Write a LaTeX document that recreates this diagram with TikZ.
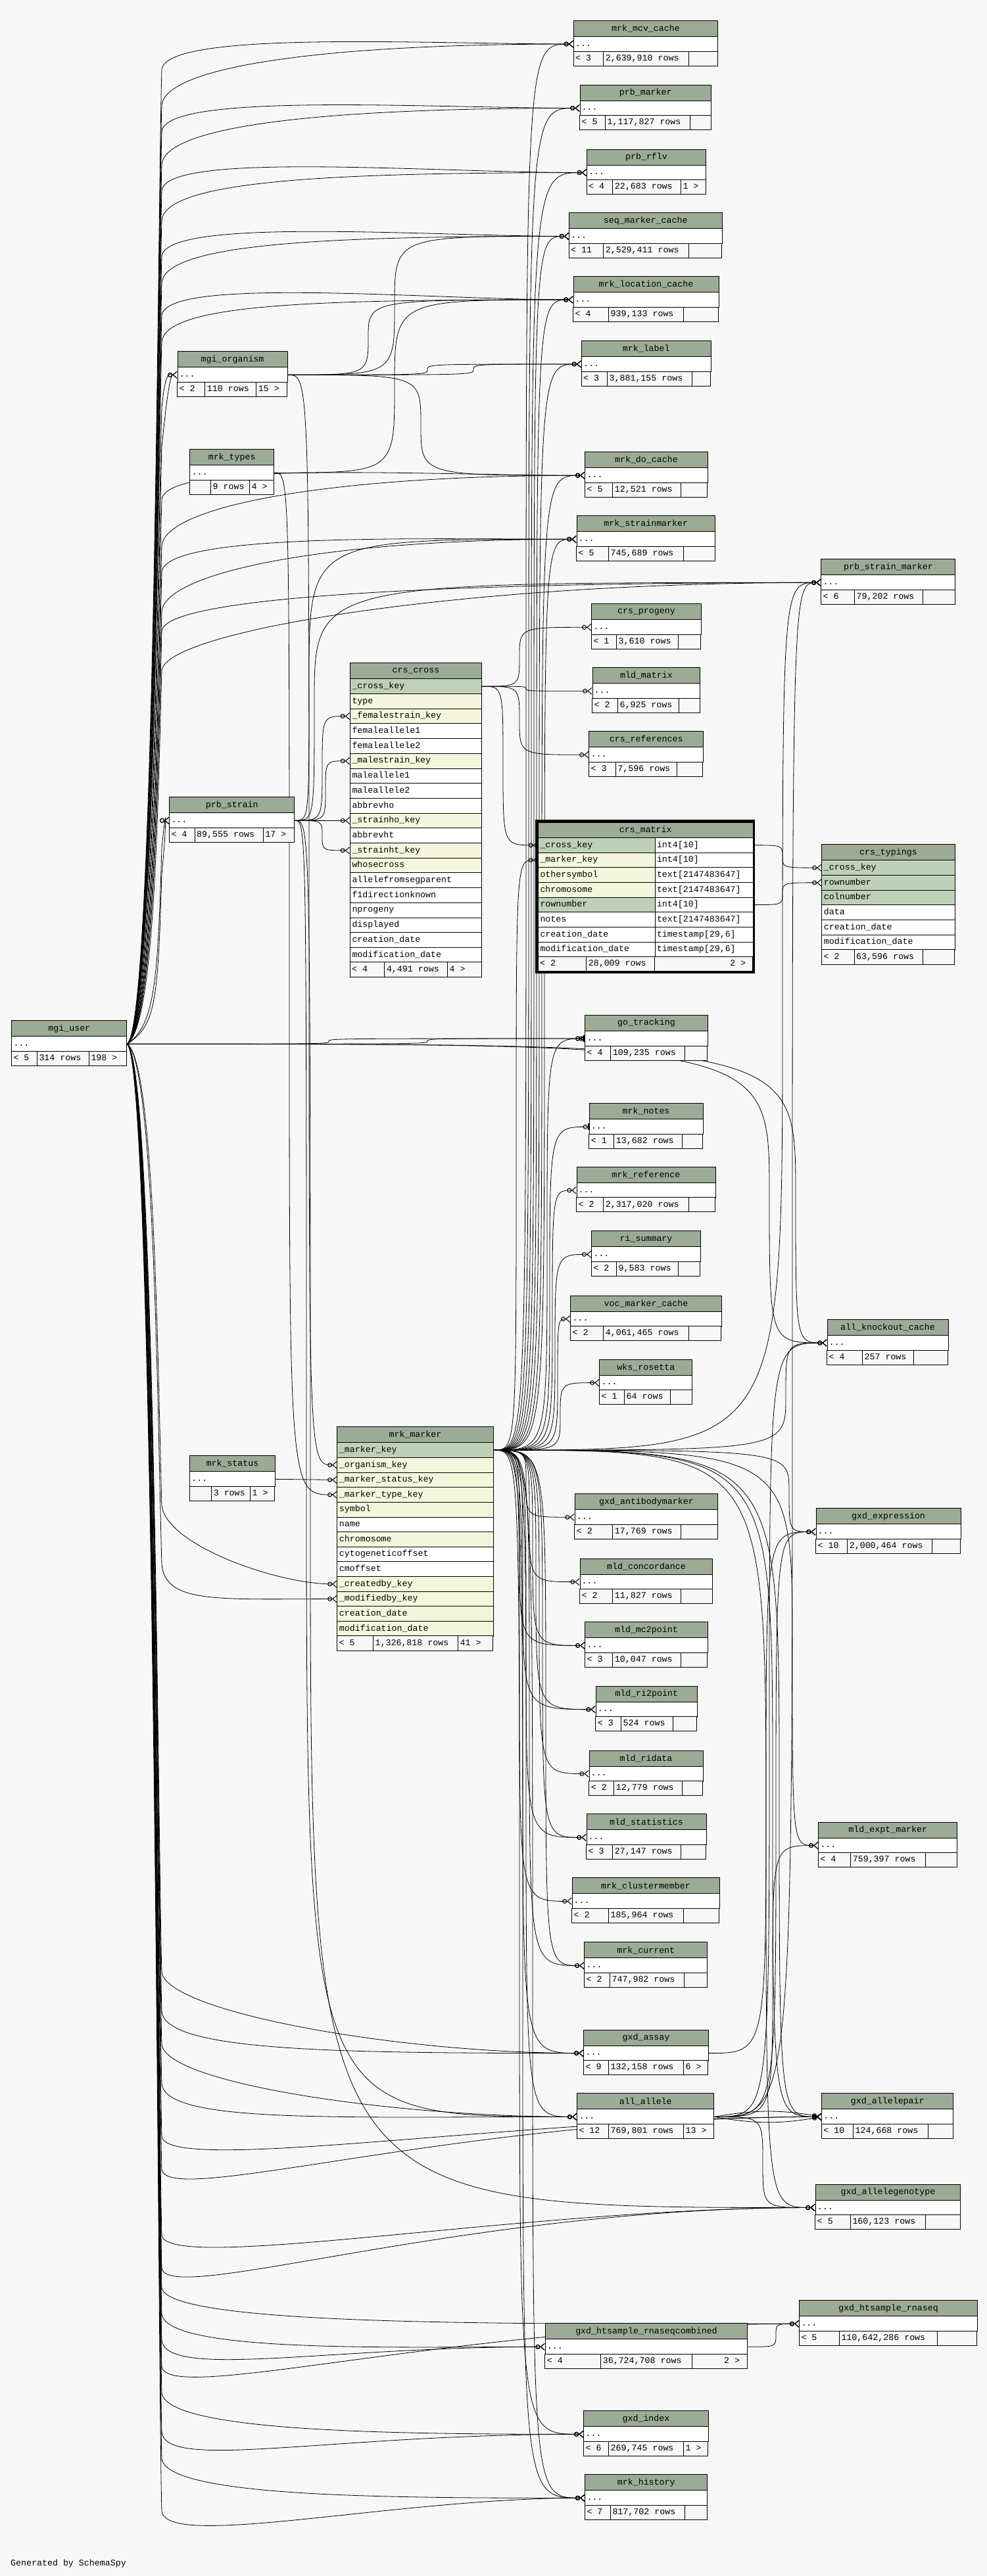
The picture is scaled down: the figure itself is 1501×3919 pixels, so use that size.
\documentclass[tikz,border=0pt]{standalone}
\usepackage{fontspec}
\setmonofont{Liberation Mono}
\usetikzlibrary{arrows.meta,calc}
\pgfdeclarelayer{background}
\pgfsetlayers{background,main}

\definecolor{bgcol}{HTML}{F7F7F7}
\definecolor{headcol}{HTML}{9BAB96}
\definecolor{pkcol}{HTML}{BED1B8}
\definecolor{ixcol}{HTML}{F4F7DD}
\newcommand{\tfont}{\ttfamily\fontsize{13.3}{15}\selectfont}

% footer: x1, y1, x2, y2, split1, split2, left, middle, right
\newcommand{\tblfoot}[9]{%
  \draw[cell] (#1,#2) rectangle (#5,#4);
  \draw[cell] (#5,#2) rectangle (#6,#4);
  \draw[cell] (#6,#2) rectangle (#3,#4);
  \node[celltext] at (#1,{(#2+#4)/2}) {#7};
  \node[celltext] at (#5,{(#2+#4)/2}) {#8};
  \node[celltext] at (#6,{(#2+#4)/2}) {#9};}

% collapsed table: name, x1, y1, x2, split1, split2, left, middle, right
\newcommand{\smalltbl}[9]{%
  \pgfmathsetmacro{\tblw}{#4-#2}%
  \node[thead, minimum width=\tblw pt, anchor=north west] (#1-h) at (#2,#3) {\detokenize{#1}};
  \node[dotsrow, minimum width=\tblw pt, anchor=north west] (#1) at (#2,{#3+24}) {};
  \node[celltext] at (#1.west) {...};
  \tblfoot{#2}{#3+47}{#4}{#3+69}{#5}{#6}{#7}{#8}{#9}}

% foreign key: child end gets the crow's foot
\newcommand{\fkline}[4][fk]{\draw[#1] (#2) .. controls (#2 -| #3,0) .. ($(#2 -| #3,0)!0.5!(#4 -| #3,0)$) .. controls (#4 -| #3,0) .. (#4);}
\newcommand{\userup}[3]{\draw[fk] (mgi_user.east) .. controls (236,1560) and (240,{#2+200}) .. (246,#2) .. controls (252,{#2-60}) and (#1.west -| #3,0) .. (#1.west);}
\newcommand{\userdn}[3]{\draw[fk] (mgi_user.east) .. controls (236,1615) and (240,{#2-200}) .. (246,#2) .. controls (252,{#2+60}) and (#1.west -| #3,0) .. (#1.west);}

\begin{document}
\begin{tikzpicture}
  [x=1pt, y=-1pt,
  thead/.style={draw, fill=headcol, line width=1pt, minimum height=24pt, inner sep=0pt, font=\tfont},
  dotsrow/.style={draw, fill=white, line width=1pt, minimum height=23pt, inner sep=0pt},
  cell/.style={draw, fill=bgcol, line width=1pt},
  celltext/.style={anchor=west, inner xsep=3pt, inner ysep=0pt, text height=9.5pt, text depth=3pt, font=\tfont},
  trow/.style={draw, line width=1pt, minimum height=22.7pt, inner xsep=3pt, inner ysep=0pt, text height=9.5pt, text depth=3pt, align=left, font=\tfont},
  fk/.style={line width=0.8pt, -{Circle[open,length=7pt,width=7pt,line width=1pt] Straight Barb[reversed,length=6pt,width=10pt,line width=1pt]}},
  fkone/.style={line width=0.8pt, -{Circle[open,length=7pt,width=7pt,line width=1pt] Bar[width=10pt,line width=2pt]}}
  ]
  \begin{pgfonlayer}{background}
    \path[use as bounding box, fill=bgcol] (0,0) rectangle (1501,3919);
  \end{pgfonlayer}

  % tables, top to bottom
  \smalltbl{mrk_mcv_cache}{872}{31}{1091}{917.6}{1047.8}{< 3}{2,639,910 rows}{}
  \smalltbl{prb_marker}{881.5}{128.5}{1081}{920.5}{1049.4}{< 5}{1,117,827 rows}{}
  \smalltbl{prb_rflv}{892}{226.6}{1073}{931.7}{1035.3}{< 4}{22,683 rows}{1 >}
  \smalltbl{seq_marker_cache}{865}{323.4}{1097.5}{917.6}{1047.8}{< 11}{2,529,411 rows}{}
  \smalltbl{mrk_location_cache}{871.5}{420}{1092.5}{925.5}{1039.5}{< 4}{939,133 rows}{}
  \smalltbl{mrk_label}{884}{518}{1080.5}{923.4}{1052.3}{< 3}{3,881,155 rows}{}
  \smalltbl{mgi_organism}{269.5}{534.3}{436.7}{311.7}{389.7}{< 2}{110 rows}{15 >}
  \smalltbl{mrk_types}{288.4}{683.2}{416}{320.4}{379.5}{}{9 rows}{4 >}
  \smalltbl{mrk_do_cache}{889.4}{687.3}{1075.5}{931.7}{1035.7}{< 5}{12,521 rows}{}
  \smalltbl{mrk_strainmarker}{876.5}{784.3}{1087.1}{925.5}{1039.5}{< 5}{745,689 rows}{}
  \smalltbl{prb_strain_marker}{1248.4}{850.3}{1452.4}{1299.4}{1403.5}{< 6}{79,202 rows}{}
  \smalltbl{crs_progeny}{899.3}{918.3}{1065.6}{937.5}{1031.6}{< 1}{3,610 rows}{}
  \smalltbl{mld_matrix}{900.5}{1015.3}{1064.4}{939.4}{1032.5}{< 2}{6,925 rows}{}
  \smalltbl{crs_references}{895.4}{1112.3}{1068.9}{936.2}{1029.3}{< 3}{7,596 rows}{}
  \smalltbl{prb_strain}{257.3}{1212.3}{447.3}{296}{400.3}{< 4}{89,555 rows}{17 >}
  \smalltbl{mgi_user}{17.3}{1552.3}{192.3}{56.3}{135.3}{< 5}{314 rows}{198 >}
  \smalltbl{go_tracking}{889.4}{1544}{1075.5}{928.8}{1041.5}{< 4}{109,235 rows}{}
  \smalltbl{mrk_notes}{895.6}{1678.3}{1068.5}{933.7}{1037.4}{< 1}{13,682 rows}{}
  \smalltbl{mrk_reference}{876.5}{1774.9}{1087.6}{917.6}{1047.8}{< 2}{2,317,020 rows}{}
  \smalltbl{ri_summary}{899.3}{1872.3}{1064.8}{937.5}{1031.6}{< 2}{9,583 rows}{}
  \smalltbl{voc_marker_cache}{867.4}{1970.6}{1096.7}{917.6}{1047.8}{< 2}{4,061,465 rows}{}
  \smalltbl{wks_rosetta}{911.4}{2067.6}{1052.3}{949.5}{1019.6}{< 1}{64 rows}{}
  \smalltbl{all_knockout_cache}{1257.5}{2007}{1441.6}{1311.4}{1389.4}{< 4}{257 rows}{}
  \smalltbl{gxd_antibodymarker}{873.6}{2272.2}{1091.3}{931.7}{1035.7}{< 2}{17,769 rows}{}
  \smalltbl{gxd_expression}{1240.5}{2294.4}{1460.7}{1288.6}{1417.6}{< 10}{2,000,464 rows}{}
  \smalltbl{mld_concordance}{881.5}{2370.6}{1083.4}{931.7}{1035.7}{< 2}{11,827 rows}{}
  \smalltbl{mld_mc2point}{889.4}{2467.4}{1075.5}{931.7}{1035.7}{< 3}{10,047 rows}{}
  \smalltbl{mld_ri2point}{905.6}{2564.6}{1059.8}{944.5}{1023.3}{< 3}{524 rows}{}
  \smalltbl{mld_ridata}{895.6}{2662.5}{1068.5}{933.7}{1037.4}{< 2}{12,779 rows}{}
  \smalltbl{mld_statistics}{891.5}{2759.4}{1073.5}{931.7}{1035.7}{< 3}{27,147 rows}{}
  \smalltbl{mld_expt_marker}{1244.3}{2771.6}{1455.3}{1293.6}{1407.6}{< 4}{759,397 rows}{}
  \smalltbl{mrk_status}{288.2}{2214.3}{417.7}{321.6}{380.5}{}{3 rows}{1 >}
  \smalltbl{mrk_clustermember}{869.5}{2856.4}{1093.6}{925.5}{1039.4}{< 2}{185,964 rows}{}
  \smalltbl{mrk_current}{888.4}{2954.4}{1075.2}{927.4}{1040.3}{< 2}{747,982 rows}{}
  \smalltbl{gxd_assay}{887.4}{3087.6}{1076.6}{925.5}{1039.4}{< 9}{132,158 rows}{6 >}
  \smalltbl{all_allele}{877.3}{3184.4}{1085.3}{925.5}{1039.4}{< 12}{769,801 rows}{13 >}
  \smalltbl{gxd_allelepair}{1249.2}{3184.4}{1449.4}{1297.4}{1411.3}{< 10}{124,668 rows}{}
  \smalltbl{gxd_allelegenotype}{1239.6}{3322.5}{1460.4}{1293.3}{1407.2}{< 5}{160,123 rows}{}
  \smalltbl{gxd_htsample_rnaseq}{1215.3}{3499.3}{1485.7}{1276.3}{1425.5}{< 5}{110,642,286 rows}{}
  \smalltbl{gxd_htsample_rnaseqcombined}{828.7}{3534.3}{1136.3}{913.6}{1052.3}{< 4}{36,724,708 rows}{}
  \node[celltext, anchor=east, inner xsep=11pt] at (1136.3,3592.3) {2 >};
  \smalltbl{gxd_index}{887.4}{3667.3}{1076.6}{925.5}{1039.4}{< 6}{269,745 rows}{1 >}
  \smalltbl{mrk_history}{889.3}{3764.3}{1075.2}{928.3}{1041.3}{< 7}{817,702 rows}{}

  % crs_cross
  \node[thead, minimum width=200pt, anchor=north west] (crs_cross-h) at (532,1008.3) {crs\_cross};
  \foreach \nm/\fc [count=\i] in {\_cross\_key/pkcol, type/ixcol, \_femalestrain\_key/ixcol, femaleallele1/white, femaleallele2/white, \_malestrain\_key/ixcol, maleallele1/white, maleallele2/white, abbrevho/white, \_strainho\_key/ixcol, abbrevht/white, \_strainht\_key/ixcol, whosecross/ixcol, allelefromsegparent/white, f1directionknown/white, nprogeny/white, displayed/white, creation\_date/white, modification\_date/white}
    \node[trow, fill=\fc, text width=194pt, anchor=north west] (crs_cross-\i) at (532,{1032.3+(\i-1)*22.7}) {\nm};
  \tblfoot{532}{1463.6}{732}{1486.3}{584.8}{680.5}{< 4}{4,491 rows}{4 >}

  % crs_matrix
  \node[thead, minimum width=326.5pt, minimum height=23.3pt, anchor=north west] (crs_matrix-h) at (818,1250.7) {crs\_matrix};
  \foreach \nm/\fc/\ty [count=\i] in {\_cross\_key/pkcol/int4[10], \_marker\_key/ixcol/int4[10], othersymbol/ixcol/text[2147483647], chromosome/ixcol/text[2147483647], rownumber/pkcol/int4[10], notes/white/text[2147483647], creation\_date/white/{timestamp[29,6]}, modification\_date/white/{timestamp[29,6]}}
  {
    \node[trow, fill=\fc, text width=171.5pt, anchor=north west] (crs_matrix-\i) at (818,{1274+(\i-1)*22.67}) {\nm};
    \node[trow, fill=white, text width=143pt, anchor=north west] (crs_matrix-t\i) at (995.5,{1274+(\i-1)*22.67}) {\ty};
  }
  \tblfoot{818}{1455.4}{1144.5}{1477.3}{891.6}{995.5}{< 2}{28,009 rows}{}
  \node[celltext, anchor=east, inner xsep=10pt] at (1144.5,1466.3) {2 >};
  \draw[line width=3.5pt] (816.2,1248.9) rectangle (1146.3,1479.1);

  % crs_typings
  \node[thead, minimum width=202.1pt, anchor=north west] (crs_typings-h) at (1249.4,1284.3) {crs\_typings};
  \foreach \nm/\fc [count=\i] in {\_cross\_key/pkcol, rownumber/pkcol, colnumber/pkcol, data/white, creation\_date/white, modification\_date/white}
    \node[trow, fill=\fc, text width=196.1pt, anchor=north west] (crs_typings-\i) at (1249.4,{1308.3+(\i-1)*22.7}) {\nm};
  \tblfoot{1249.4}{1444.5}{1451.5}{1467.3}{1299}{1403.7}{< 2}{63,596 rows}{}

  % mrk_marker
  \node[thead, minimum width=237.1pt, anchor=north west] (mrk_marker-h) at (512.4,2170.3) {mrk\_marker};
  \foreach \nm/\fc [count=\i] in {\_marker\_key/pkcol, \_organism\_key/ixcol, \_marker\_status\_key/ixcol, \_marker\_type\_key/ixcol, symbol/ixcol, name/white, chromosome/ixcol, cytogeneticoffset/white, cmoffset/white, \_createdby\_key/ixcol, \_modifiedby\_key/ixcol, creation\_date/ixcol, modification\_date/ixcol}
    \node[trow, fill=\fc, text width=231.1pt, anchor=north west] (mrk_marker-\i) at (512.4,{2194.3+(\i-1)*22.64}) {\nm};
  \tblfoot{512.4}{2488.6}{749.5}{2511.3}{567.4}{696.5}{< 5}{1,326,818 rows}{41 >}

  \node[celltext, inner xsep=0pt] (credit) at (16,3900) {Generated by SchemaSpy};

  \begin{pgfonlayer}{background}
    % mgi_user
    \userup{mrk_mcv_cache}{106}{650}
    \userup{mrk_mcv_cache}{160}{500}
    \userup{prb_marker}{200}{650}
    \userup{prb_marker}{250}{500}
    \userup{prb_rflv}{290}{650}
    \userup{prb_rflv}{335}{500}
    \userup{seq_marker_cache}{390}{650}
    \userup{seq_marker_cache}{430}{500}
    \userup{mrk_location_cache}{480}{650}
    \userup{mrk_location_cache}{520}{500}
    \userup{mgi_organism}{620}{258}
    \userup{mgi_organism}{680}{258}
    \userup{mrk_do_cache}{760}{650}
    \userup{mrk_do_cache}{830}{500}
    \userup{mrk_strainmarker}{870}{650}
    \userup{mrk_strainmarker}{930}{500}
    \userup{prb_strain_marker}{960}{800}
    \userup{prb_strain_marker}{1020}{700}
    \userup{prb_strain}{1290}{252}
    \userup{prb_strain}{1330}{252}
    \fkline{mgi_user.east}{500}{go_tracking.west}
    \fkline{mgi_user.east}{650}{go_tracking.west}
    \fkline{mgi_user.east}{1170}{all_knockout_cache.west}
    \fkline{mgi_user.east}{1210}{all_knockout_cache.west}
    \userdn{mrk_marker-10}{2290}{420}
    \userdn{mrk_marker-11}{2380}{330}
    \userdn{gxd_assay}{3000}{600}
    \userdn{gxd_assay}{3060}{500}
    \userdn{all_allele}{3110}{600}
    \userdn{all_allele}{3170}{500}
    \userdn{gxd_allelepair}{3250}{800}
    \userdn{gxd_allelepair}{3300}{700}
    \userdn{gxd_allelegenotype}{3400}{800}
    \userdn{gxd_allelegenotype}{3450}{700}
    \userdn{gxd_htsample_rnaseq}{3480}{800}
    \userdn{gxd_htsample_rnaseq}{3600}{700}
    \userdn{gxd_htsample_rnaseqcombined}{3520}{600}
    \userdn{gxd_htsample_rnaseqcombined}{3560}{500}
    \userdn{gxd_index}{3640}{600}
    \userdn{gxd_index}{3700}{500}
    \userdn{mrk_history}{3740}{600}
    \userdn{mrk_history}{3820}{600}

    % mrk_marker
    \fkline{mrk_marker-1.east}{800}{mrk_mcv_cache.west}
    \fkline{mrk_marker-1.east}{804}{prb_marker.west}
    \fkline{mrk_marker-1.east}{808}{prb_rflv.west}
    \fkline{mrk_marker-1.east}{812}{seq_marker_cache.west}
    \fkline{mrk_marker-1.east}{816}{mrk_location_cache.west}
    \fkline{mrk_marker-1.east}{820}{mrk_label.west}
    \fkline{mrk_marker-1.east}{824}{mrk_do_cache.west}
    \fkline{mrk_marker-1.east}{828}{mrk_strainmarker.west}
    \fkline{mrk_marker-1.east}{785}{crs_matrix-2.west}
    \fkline[fkone]{mrk_marker-1.east}{832}{go_tracking.west}
    \fkline[fkone]{mrk_marker-1.east}{836}{mrk_notes.west}
    \fkline{mrk_marker-1.east}{840}{mrk_reference.west}
    \fkline{mrk_marker-1.east}{844}{ri_summary.west}
    \fkline{mrk_marker-1.east}{848}{voc_marker_cache.west}
    \fkline{mrk_marker-1.east}{852}{wks_rosetta.west}
    \fkline{mrk_marker-1.east}{1190}{prb_strain_marker.west}
    \fkline{mrk_marker-1.east}{1195}{all_knockout_cache.west}
    \fkline{mrk_marker-1.east}{1200}{gxd_expression.west}
    \fkline{mrk_marker-1.east}{1205}{mld_expt_marker.west}
    \fkline{mrk_marker-1.east}{800}{gxd_antibodymarker.west}
    \fkline{mrk_marker-1.east}{805}{mld_concordance.west}
    \fkline{mrk_marker-1.east}{790}{mld_mc2point.west}
    \fkline{mrk_marker-1.east}{810}{mld_mc2point.west}
    \fkline{mrk_marker-1.east}{795}{mld_ri2point.west}
    \fkline{mrk_marker-1.east}{815}{mld_ri2point.west}
    \fkline{mrk_marker-1.east}{820}{mld_ridata.west}
    \fkline{mrk_marker-1.east}{800}{mld_statistics.west}
    \fkline{mrk_marker-1.east}{825}{mld_statistics.west}
    \fkline{mrk_marker-1.east}{790}{mrk_clustermember.west}
    \fkline{mrk_marker-1.east}{805}{mrk_current.west}
    \fkline{mrk_marker-1.east}{830}{mrk_current.west}
    \fkline{mrk_marker-1.east}{795}{gxd_assay.west}
    \fkline{mrk_marker-1.east}{800}{all_allele.west}
    \fkline{mrk_marker-1.east}{1175}{gxd_allelepair.west}
    \fkline{mrk_marker-1.east}{1185}{gxd_allelepair.west}
    \fkline{mrk_marker-1.east}{1165}{gxd_allelegenotype.west}
    \fkline{mrk_marker-1.east}{790}{gxd_index.west}
    \fkline{mrk_marker-1.east}{795}{mrk_history.west}
    \fkline{mrk_marker-1.east}{810}{mrk_history.west}

    % mgi_organism, mrk_types, mrk_status
    \fkline{mgi_organism.east}{600}{seq_marker_cache.west}
    \fkline{mgi_organism.east}{560}{mrk_location_cache.west}
    \fkline{mgi_organism.east}{650}{mrk_label.west}
    \fkline{mgi_organism.east}{720}{mrk_label.west}
    \fkline{mgi_organism.east}{640}{mrk_do_cache.west}
    \fkline{mgi_organism.east}{470}{mrk_marker-2.west}
    \fkline{mrk_types.east}{600}{mrk_location_cache.west}
    \fkline{mrk_types.east}{440}{mrk_marker-4.west}
    \draw[fk] (mrk_status.east) -- (mrk_marker-3.west);

    % prb_strain
    \fkline{prb_strain.east}{490}{crs_cross-3.west}
    \fkline{prb_strain.east}{495}{crs_cross-6.west}
    \draw[fk] (prb_strain.east) -- (crs_cross-10.west);
    \fkline{prb_strain.east}{490}{crs_cross-12.west}
    \fkline{prb_strain.east}{470}{mrk_strainmarker.west}
    \fkline{prb_strain.east}{478}{prb_strain_marker.west}
    \fkline{prb_strain.east}{466}{all_allele.west}
    \fkline{prb_strain.east}{472}{gxd_allelegenotype.west}

    % crs_cross, crs_matrix
    \fkline{crs_cross-1.east}{790}{crs_progeny.west}
    \fkline{crs_cross-1.east}{800}{mld_matrix.west}
    \fkline{crs_cross-1.east}{790}{crs_references.west}
    \fkline{crs_cross-1.east}{765}{crs_matrix-1.west}
    \fkline{crs_matrix-t1.east}{1190}{crs_typings-1.west}
    \fkline{crs_matrix-t5.east}{1190}{crs_typings-2.west}

    % all_allele, gxd_assay, gxd_htsample_rnaseqcombined
    \draw[fk] (all_allele.east) to[bend left=10] (gxd_allelepair.west);
    \draw[fk] (all_allele.east) to[bend right=10] (gxd_allelepair.west);
    \fkline{all_allele.east}{1160}{gxd_allelegenotype.west}
    \fkline{all_allele.east}{1170}{all_knockout_cache.west}
    \fkline{all_allele.east}{1175}{mld_expt_marker.west}
    \fkline{all_allele.east}{1180}{gxd_expression.west}
    \fkline{all_allele.east}{1205}{prb_strain_marker.west}
    \fkline{gxd_assay.east}{1165}{gxd_expression.west}
    \fkline{gxd_htsample_rnaseqcombined.east}{1180}{gxd_htsample_rnaseq.west}
  \end{pgfonlayer}
\end{tikzpicture}
\end{document}
